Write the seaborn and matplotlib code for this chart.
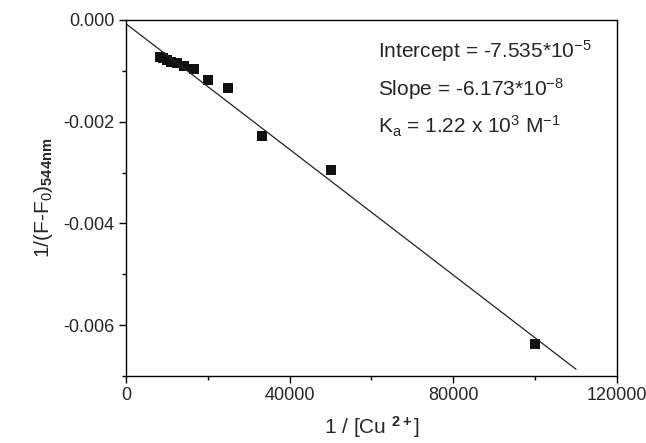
import matplotlib
matplotlib.use("Agg")
import matplotlib.pyplot as plt
import seaborn as sns
import numpy as np
import pandas as pd
from matplotlib.ticker import MultipleLocator, FormatStrFormatter

# Data
inv_cu = [8333, 9091, 10000, 11111, 12500, 14286, 16667,
          20000, 25000, 33333, 50000, 100000]
inv_dF = [-0.00073, -0.00075, -0.00078, -0.00082, -0.00085, -0.00090, -0.00097,
          -0.00119, -0.00134, -0.00229, -0.00294, -0.00636]

# Linear fit reported on the chart
intercept = -7.535e-5
slope = -6.173e-8
fit_x = [0, 110000]

df = pd.DataFrame({"x": inv_cu, "y": inv_dF})
fit = pd.DataFrame({"x": fit_x})
fit["y"] = intercept + slope * fit["x"]

sns.set_theme(style="ticks")
plt.rcParams["font.family"] = ["Liberation Sans", "DejaVu Sans"]
plt.rcParams["mathtext.fontset"] = "custom"
plt.rcParams["mathtext.rm"] = "Liberation Sans"
plt.rcParams["mathtext.it"] = "Liberation Sans"
plt.rcParams["mathtext.bf"] = "Liberation Sans:bold"
plt.rcParams["axes.unicode_minus"] = False

fig = plt.figure(figsize=(6.46, 4.43), dpi=100)
ax = fig.add_axes([0.195, 0.151, 0.76, 0.804])

sns.lineplot(data=fit, x="x", y="y", ax=ax, color="#222222", linewidth=0.9)
sns.scatterplot(data=df, x="x", y="y", ax=ax, marker="s", s=45,
                color="#111111", edgecolor="#111111", linewidth=0)

ax.set_xlim(0, 120000)
ax.set_ylim(-0.007, 0.0)
ax.xaxis.set_major_locator(MultipleLocator(40000))
ax.xaxis.set_minor_locator(MultipleLocator(20000))
ax.yaxis.set_major_locator(MultipleLocator(0.002))
ax.yaxis.set_minor_locator(MultipleLocator(0.001))
ax.yaxis.set_major_formatter(FormatStrFormatter("%.3f"))

ax.tick_params(which="both", direction="out", color="black", labelsize=13,
               top=False, right=False, pad=3)
ax.tick_params(which="major", length=5, width=1)
ax.tick_params(which="minor", length=3, width=1)
for sp in ax.spines.values():
    sp.set_color("black")
    sp.set_linewidth(1)

ax.set_xlabel(r"1 / [Cu $^{\mathbf{2+}}$]", fontsize=15, labelpad=7)
ax.set_ylabel(r"1/(F-F$_0$)$_{\mathbf{544nm}}$", fontsize=15, labelpad=6)

# Fit annotation
ax.text(0.513, 0.912, r"Intercept = -7.535*10$^{-5}$", transform=ax.transAxes,
        fontsize=15, va="center")
ax.text(0.513, 0.806, r"Slope = -6.173*10$^{-8}$", transform=ax.transAxes,
        fontsize=15, va="center")
ax.text(0.513, 0.70, r"K$_a$ = 1.22 x 10$^3$ M$^{-1}$", transform=ax.transAxes,
        fontsize=15, va="center")

fig.savefig("out.png", dpi=100)
